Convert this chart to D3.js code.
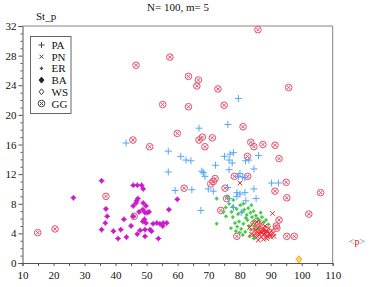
<!DOCTYPE html>
<html>
<head>
<meta charset="utf-8">
<script src="https://cdn.jsdelivr.net/npm/d3@7"></script>
<style>
  body { margin: 0; background: #fff; }
  text { font-family: "Liberation Serif", "DejaVu Serif", serif; }
</style>
</head>
<body>
<svg id="graph"></svg>
<script>
// Tick values
var xMajor = [10, 20, 30, 40, 50, 60, 70, 80, 90, 100, 110];
var yMajor = [0, 4, 8, 12, 16, 20, 24, 28, 32];

// Series values [<p>, St_p]
var PA = [[43.4,16.2],[57,15.1],[61,14.4],[62.7,13.9],[64.3,13.8],[57,12.3],[59.2,9.8],[64.6,9.9],
  [67.5,7.1],[66.9,18.2],[76.2,18.7],[79.6,22.2],[67.8,12.4],[68.8,11.7],[68.3,12.2],[72.2,13.2],
  [75.1,14.4],[76.9,14.7],[78,14.9],[76.6,13.9],[77.6,13.5],[81.9,13.8],[83,13.9],[86.1,14.5],
  [84.6,12.7],[76.6,12.6],[80.1,12.1],[79.6,11.7],[81,11.6],[81.7,11.5],[90.3,10.8],[92.5,10.8],
  [69.9,10],[71.5,9.7],[76.1,10.2],[79.1,9.5],[80.1,9.3],[81.7,9.5],[84.6,10],[85.3,8.7],
  [76.5,8.7],[79.1,9],[82,8.4],[78,7.5],[80.5,6.8]];

var PN = [[80.1,10.8],[90.6,6.7],[84,5.2],[84.8,4.6],[85.3,4.0],[85.8,3.6],[86.2,4.8],[86.6,4.2],
  [87,3.5],[87.4,4.5],[87.8,3.9],[88.2,5.0],[88.5,4.3],[88.9,3.6],[89.3,4.7],[89.6,4.0],[90,3.5],
  [90.4,4.4],[85.5,5.5],[86.9,5.3],[87.7,3.2],[88.7,3.3],[86,3.1],[84.5,3.8],[85,4.4],[86.4,3.9],
  [87.2,4.1],[88,4.6],[89,4.2],[89.8,3.8],[83.2,4.8],[83.8,3.9],[90.8,4.0],[91,3.6]];

var ER = [[72.6,8.7],[72.6,5.3],[75.6,6.3],[77.4,6.9],[76.6,8],[75.5,7.5],[76,9],[78,8.5],
  [77.8,6.2],[79,7.3],[79.5,6.6],[80.2,7.8],[80.8,6.9],[81.5,7.2],[82.3,6.5],[82.8,7.4],[83.5,6.8],
  [84,6.2],[84.5,7],[85.2,6.4],[78.5,5.4],[79.2,4.9],[79.8,5.6],[80.5,4.6],[81.2,5.3],[81.8,4.2],
  [82.5,5.8],[83,5],[83.6,4.5],[84.3,5.6],[85,5],[85.8,6],[86.5,5.7],[87.2,6.2],[87.8,5.5],[86,4.6],
  [80,4.1],[78.8,4.3],[81,3.8],[83.2,3.6],[84.8,3.5],[82,6.1],[86.8,6.8],[77.8,7.6],[81.2,8.0],
  [83.8,7.8],[88.5,5.8],[89.3,5.2],[77.2,4.7],[74.8,6.9],[84.6,3.3]];

var BA = [[35.5,11.1],[26.4,8.8],[36.9,7.3],[37.3,6.3],[36.7,5.4],[35.5,4.5],[39.3,4.3],[41.7,4.5],
  [40.8,3.3],[43.5,3.5],[42.7,5.9],[45,5],[45.7,6.3],[45.7,10.5],[47,10.5],[48.4,10.5],[48.9,10],
  [46.8,8.4],[47.2,8.7],[46.6,8.1],[45.7,7.7],[48.9,8.1],[49.8,7.7],[47.6,6.9],[48.8,7.2],[49.5,6.8],
  [50.2,6.8],[50.8,6.9],[48.8,5.6],[49.8,5.4],[49.3,5.9],[52.1,5.3],[53.3,5.4],[54.3,5.3],[55.4,5.4],
  [56.5,5.4],[55.2,5],[51.1,4.5],[51.6,4.3],[47.9,4.4],[49.5,4.5],[47,3.9],[49.5,3.6],[53.8,3.3],
  [57.2,7.2],[59.9,8.6]];

var WS = [[99.1,0.5]];

var GG = [[14.9,4.1],[20.5,4.6],[36.9,9.0],[46,6.3],[62.1,10.1],[46.6,26.7],[57.5,27.8],[85.9,31.5],
  [63.5,25.2],[66.7,24.7],[66.2,23.9],[73,23.5],[95.8,23.7],[55.2,21.4],[63.5,21.1],[75,21.3],
  [59.9,17.5],[45.6,16.6],[51,15.7],[81.1,18.4],[68,17],[66.9,16.6],[71.2,16.9],[83.6,16.3],
  [84.6,15.7],[87.5,16],[91.4,15.9],[68.8,15.7],[82.5,14.4],[92.7,14.1],[72.1,11.4],[71.5,11.0],
  [70.7,10.7],[78.3,11.7],[82.6,11.7],[95,10.9],[75.3,10.1],[91.4,9.7],[95.2,8.8],[106.1,9.5],
  [102.3,6.6],[75.8,8.7],[73.9,7.1],[92.7,5.8],[91.8,5.0],[92,4.7],[79.1,3.6],[95.2,3.6],[97.6,3.6],
  [86.5,4.5],[88.5,4.0],[85.5,5.6]];

var svg = d3.select("#graph").attr("width", 374).attr("height", 287);

var x = d3.scaleLinear().domain([10, 110]).range([22.5, 332.7]);
var y = d3.scaleLinear().domain([0, 32]).range([263, 26]);

// frame (top and right)
svg.append("path")
  .attr("d", "M" + x(10) + "," + y(32) + "H" + x(110) + "V" + y(0))
  .attr("fill", "none").attr("stroke", "#8c8282").attr("stroke-width", 1);

// minor ticks
svg.append("g").attr("transform", "translate(0," + y(0) + ")")
  .call(d3.axisBottom(x).tickValues(d3.range(15, 110, 10)).tickSize(3).tickFormat(""))
  .call(g => g.select(".domain").remove())
  .call(g => g.selectAll(".tick line").attr("stroke", "#555"));
svg.append("g").attr("transform", "translate(" + x(10) + ",0)")
  .call(d3.axisLeft(y).tickValues(d3.range(0, 33, 1).filter(v => v % 4)).tickSize(2).tickFormat(""))
  .call(g => g.select(".domain").remove())
  .call(g => g.selectAll(".tick line").attr("stroke", "#555"));

// main axes
svg.append("g").attr("transform", "translate(0," + y(0) + ")")
  .call(d3.axisBottom(x).tickValues(xMajor).tickSize(3).tickPadding(5))
  .call(g => g.select(".domain").attr("stroke", "#555"))
  .call(g => g.selectAll(".tick line").attr("stroke", "#555"))
  .call(g => g.selectAll("text").attr("font-size", 11).attr("fill", "#111")
    .attr("font-family", "Liberation Serif"));
svg.append("g").attr("transform", "translate(" + x(10) + ",0)")
  .call(d3.axisLeft(y).tickValues(yMajor).tickSize(4).tickPadding(2))
  .call(g => g.select(".domain").attr("stroke", "#555"))
  .call(g => g.selectAll(".tick line").attr("stroke", "#555"))
  .call(g => g.selectAll("text").attr("font-size", 11).attr("fill", "#111")
    .attr("font-family", "Liberation Serif"));

// titles
svg.append("text").attr("x", 178).attr("y", 11).attr("text-anchor", "middle")
  .attr("font-size", 11).attr("fill", "#111").text("N= 100, m= 5");
svg.append("text").attr("x", 36).attr("y", 20)
  .attr("font-size", 11).attr("fill", "#111").text("St_p");
var pl = svg.append("text").attr("x", 357).attr("y", 245).attr("text-anchor", "middle")
  .attr("font-size", 10);
pl.append("tspan").attr("fill", "#777").text("<");
pl.append("tspan").attr("fill", "#d01020").text("p");
pl.append("tspan").attr("fill", "#777").text(">");

// marker drawers
function drawPlus(g, cx, cy, r, color) {
  g.append("path").attr("d", "M" + (cx - r) + "," + cy + "H" + (cx + r) + "M" + cx + "," + (cy - r) + "V" + (cy + r))
    .attr("stroke", color).attr("stroke-width", 1).attr("fill", "none");
}
function drawCross(g, cx, cy, r, color) {
  g.append("path").attr("d", "M" + (cx - r) + "," + (cy - r) + "L" + (cx + r) + "," + (cy + r) +
      "M" + (cx - r) + "," + (cy + r) + "L" + (cx + r) + "," + (cy - r))
    .attr("stroke", color).attr("stroke-width", 1).attr("fill", "none");
}
function drawStar(g, cx, cy, r, color) {
  g.append("rect").attr("x", cx - r).attr("y", cy - r).attr("width", 2 * r).attr("height", 2 * r)
    .attr("fill", color);
  g.append("path").attr("d", "M" + (cx - r - 0.8) + "," + cy + "H" + (cx + r + 0.8) + "M" + cx + "," + (cy - r - 0.8) + "V" + (cy + r + 0.8))
    .attr("stroke", color).attr("stroke-width", 1);
}
function drawDiamond(g, cx, cy, r, color, fill) {
  g.append("path").attr("d", "M" + cx + "," + (cy - r) + "L" + (cx + r * 0.8) + "," + cy + "L" + cx + "," + (cy + r) + "L" + (cx - r * 0.8) + "," + cy + "Z")
    .attr("fill", fill).attr("stroke", color).attr("stroke-width", 1);
}
function drawBlob(g, cx, cy, r, color) {
  g.append("circle").attr("cx", cx).attr("cy", cy).attr("r", r).attr("fill", color);
  drawPlus(g, cx, cy, r + 0.8, color);
}
function drawGG(g, cx, cy, r, color) {
  g.append("circle").attr("cx", cx).attr("cy", cy).attr("r", r)
    .attr("fill", "none").attr("stroke", color).attr("stroke-width", 1);
  drawCross(g, cx, cy, r * 0.5, color);
}

var marks = svg.append("g");
GG.forEach(d => drawGG(marks, x(d[0]), y(d[1]), 3.3, "#e4506a"));
ER.forEach(d => drawStar(marks, x(d[0]), y(d[1]), 1.2, "#4cc84c"));
PA.forEach(d => drawPlus(marks, x(d[0]), y(d[1]), 3.5, "#58a6f8"));
PN.forEach(d => drawCross(marks, x(d[0]), y(d[1]), 2.3, "#f0202c"));
BA.forEach(d => drawBlob(marks, x(d[0]), y(d[1]), 2.1, "#c81ec8"));
WS.forEach(d => drawDiamond(marks, x(d[0]), y(d[1]), 3.5, "#f0a000", "#ffd870"));

// legend
var legendNames = ["PA", "PN", "ER", "BA", "WS", "GG"];
var lg = svg.append("g");
lg.append("rect").attr("x", 30.5).attr("y", 36.5).attr("width", 40.5).attr("height", 77)
  .attr("fill", "#fff").attr("stroke", "#666").attr("stroke-width", 1);
var legendDraw = [
  (cx, cy) => drawPlus(lg, cx, cy, 3, "#444"),
  (cx, cy) => drawCross(lg, cx, cy, 2, "#444"),
  (cx, cy) => drawStar(lg, cx, cy, 1, "#444"),
  (cx, cy) => drawDiamond(lg, cx, cy, 3, "#222", "#222"),
  (cx, cy) => drawDiamond(lg, cx, cy, 3, "#444", "none"),
  (cx, cy) => drawGG(lg, cx, cy, 3.3, "#444")
];
legendNames.forEach(function(name, i) {
  var cy = 45 + i * 11.7;
  legendDraw[i](41.5, cy);
  lg.append("text").attr("x", 51.5).attr("y", cy + 4).attr("font-size", 11)
    .attr("fill", "#111").text(name);
});
</script>
</body>
</html>
